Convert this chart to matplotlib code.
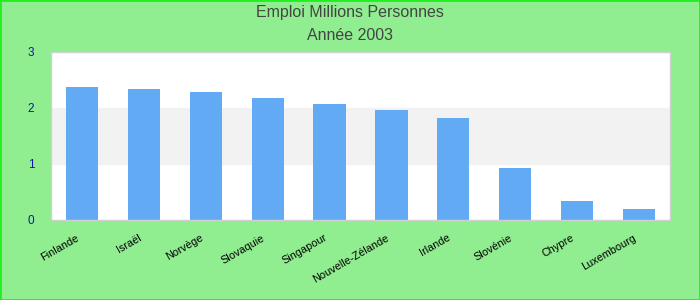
import matplotlib
matplotlib.use('Agg')
from matplotlib import pyplot as plt
import matplotlib.transforms as mtransforms
import numpy as np

plt.rcParams['font.family'] = ['Liberation Sans', 'DejaVu Sans']

pays = ['Finlande', 'Israël', 'Norvège', 'Slovaquie', 'Singapour',
        'Nouvelle-Zélande', 'Irlande', 'Slovénie', 'Chypre', 'Luxembourg']
emploi = [2.37, 2.34, 2.28, 2.18, 2.07, 1.96, 1.82, 0.93, 0.34, 0.20]
yticks = [0, 1, 2, 3]

fig = plt.figure(figsize=(7, 3), dpi=100, facecolor='#90EE90')
fig.patches.append(plt.Rectangle((0, 0), 1, 1, transform=fig.transFigure,
                                 fill=False, edgecolor='#22EE22', linewidth=2))
ax = fig.add_axes([51/700, 80/300, 619/700, 168/300])

x = np.arange(len(pays))
ax.axhspan(1, 2, color='#F2F2F2', zorder=0)
ax.bar(x, emploi, width=0.52, color='#62AAF4', zorder=2)

ax.set_xlim(-0.5, len(pays) - 0.5)
ax.set_ylim(0, 3)
ax.set_yticks(yticks)
ax.set_yticklabels([str(v) for v in yticks], color='#1414A8', fontsize=8.5)
ax.tick_params(axis='y', length=0, pad=12)
ax.set_xticks(x)
ax.set_xticklabels(pays, rotation=30, ha='right', rotation_mode='anchor', fontsize=7.8)
ax.tick_params(axis='x', length=0, pad=7)
shift = mtransforms.ScaledTranslation(-0.06, -0.03, fig.dpi_scale_trans)
for lab in ax.get_xticklabels():
    lab.set_transform(lab.get_transform() + shift)
for s in ax.spines.values():
    s.set_color('#D0D0D0')
    s.set_linewidth(1)

fig.text(0.5, 1 - 13/300, 'Emploi Millions Personnes', ha='center', va='center',
         fontsize=11.5, color='#444444')
fig.text(0.5, 1 - 36/300, 'Année 2003', ha='center', va='center',
         fontsize=11.5, color='#444444')

fig.savefig('out.png', dpi=100, facecolor=fig.get_facecolor())
